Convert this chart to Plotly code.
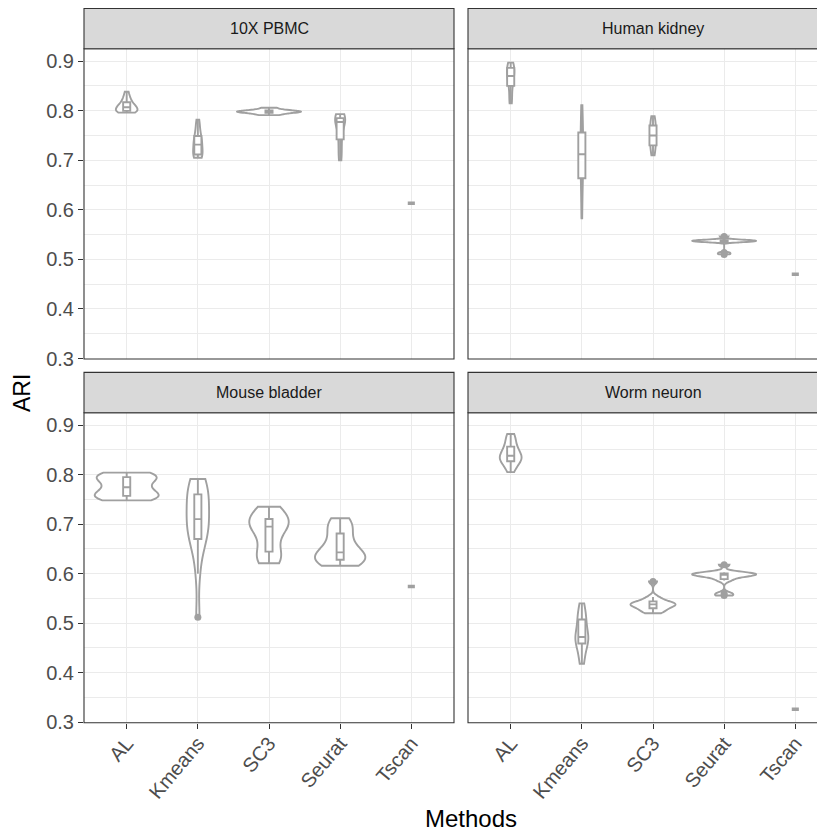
import numpy as np
import plotly.graph_objects as go

# ---------------- data (ARI values) ----------------
methods = ["AL", "Kmeans", "SC3", "Seurat", "Tscan"]
datasets = ["10X PBMC", "Human kidney", "Mouse bladder", "Worm neuron"]

pbmc_al = [0.796, 0.797, 0.798, 0.799, 0.800, 0.802, 0.804, 0.806, 0.808, 0.810, 0.812, 0.815, 0.819, 0.824, 0.829, 0.838]
pbmc_kmeans = [0.705, 0.706, 0.708, 0.710, 0.713, 0.718, 0.724, 0.730, 0.733, 0.738, 0.742, 0.746, 0.752, 0.763, 0.772, 0.782]
pbmc_sc3 = [0.791, 0.793, 0.795, 0.796, 0.797, 0.798, 0.798, 0.799, 0.800, 0.801, 0.803, 0.806]
pbmc_seurat = [0.700, 0.712, 0.728, 0.742, 0.755, 0.768, 0.775, 0.779, 0.781, 0.783, 0.785, 0.788, 0.790, 0.793]
pbmc_tscan = [0.613]

kidney_al = [0.815, 0.822, 0.835, 0.848, 0.856, 0.862, 0.866, 0.870, 0.875, 0.880, 0.884, 0.887, 0.890, 0.893, 0.897]
kidney_kmeans = [0.583, 0.620, 0.650, 0.660, 0.675, 0.690, 0.705, 0.712, 0.720, 0.735, 0.750, 0.758, 0.770, 0.790, 0.811]
kidney_sc3 = [0.710, 0.716, 0.724, 0.730, 0.736, 0.742, 0.748, 0.752, 0.758, 0.764, 0.770, 0.776, 0.783, 0.789]
kidney_seurat = [0.510, 0.512, 0.514, 0.534, 0.535, 0.535, 0.536, 0.536, 0.537, 0.537, 0.537, 0.538, 0.538, 0.538, 0.539, 0.539, 0.540, 0.541, 0.546]
kidney_tscan = [0.470]

bladder_al = [0.748, 0.751, 0.754, 0.757, 0.760, 0.764, 0.772, 0.777, 0.786, 0.791, 0.795, 0.798, 0.801, 0.804]
bladder_kmeans = [0.512, 0.600, 0.650, 0.665, 0.675, 0.690, 0.700, 0.705, 0.715, 0.730, 0.745, 0.755, 0.765, 0.775, 0.785, 0.791]
bladder_sc3 = [0.621, 0.625, 0.632, 0.641, 0.655, 0.670, 0.688, 0.695, 0.698, 0.701, 0.705, 0.712, 0.720, 0.728, 0.735]
bladder_seurat = [0.616, 0.619, 0.623, 0.627, 0.631, 0.635, 0.639, 0.643, 0.650, 0.660, 0.672, 0.684, 0.695, 0.703, 0.712]
bladder_tscan = [0.574]

worm_al = [0.805, 0.815, 0.822, 0.826, 0.830, 0.833, 0.835, 0.838, 0.842, 0.847, 0.852, 0.858, 0.866, 0.875, 0.882]
worm_kmeans = [0.418, 0.430, 0.445, 0.458, 0.462, 0.467, 0.470, 0.472, 0.480, 0.490, 0.500, 0.510, 0.515, 0.528, 0.540]
worm_sc3 = [0.520, 0.524, 0.528, 0.531, 0.534, 0.536, 0.538, 0.539, 0.541, 0.543, 0.547, 0.553, 0.584]
worm_seurat = [0.556, 0.560, 0.586, 0.592, 0.595, 0.597, 0.598, 0.599, 0.600, 0.601, 0.603, 0.618]
worm_tscan = [0.326]

panel_values = {
    "10X PBMC": [pbmc_al, pbmc_kmeans, pbmc_sc3, pbmc_seurat, pbmc_tscan],
    "Human kidney": [kidney_al, kidney_kmeans, kidney_sc3, kidney_seurat, kidney_tscan],
    "Mouse bladder": [bladder_al, bladder_kmeans, bladder_sc3, bladder_seurat, bladder_tscan],
    "Worm neuron": [worm_al, worm_kmeans, worm_sc3, worm_seurat, worm_tscan],
}

y_ticks = [0.3, 0.4, 0.5, 0.6, 0.7, 0.8, 0.9]

# ---------------- helpers ----------------
def bw_nrd0(v):
    v = np.asarray(v, float)
    n = len(v)
    sd = np.std(v, ddof=1)
    q75, q25 = np.percentile(v, [75, 25])
    lo = min(sd, (q75 - q25) / 1.34)
    if lo <= 0:
        lo = sd if sd > 0 else 1.0
    return 0.9 * lo * n ** -0.2


def max_density(v, h):
    v = np.asarray(v, float)
    g = np.linspace(v.min(), v.max(), 512)
    z = (g[:, None] - v[None, :]) / h
    d = np.exp(-0.5 * z ** 2).sum(axis=1) / (len(v) * h * np.sqrt(2 * np.pi))
    return d.max()


# ---------------- layout geometry ----------------
# the page body has an 8px margin, so the figure is drawn 8px in from the window corner
OFF = 8
W, H = 825 - OFF, 832 - OFF
ML, MR, MT, MB = 84 - OFF, 0, 48 - OFF, 109
PW = W - ML - MR
PH = H - MT - MB
left_px = (84 - OFF, 454 - OFF)
right_px = (468 - OFF, 838 - OFF)
unit = (left_px[1] - left_px[0]) / 5.2
top_px = (48.7 - OFF, 359 - OFF)
bot_px = (412.7 - OFF, 722.7 - OFF)

def xdom(px):
    return [max(0, (px[0] - ML) / PW), min(1, (px[1] - ML) / PW)]

def ydom(px):
    return [(H - MB - px[1]) / PH, min(1, (H - MB - px[0]) / PH)]

panels = [
    ("10X PBMC", left_px, top_px, 1),
    ("Human kidney", right_px, top_px, 2),
    ("Mouse bladder", left_px, bot_px, 3),
    ("Worm neuron", right_px, bot_px, 4),
]

GREY = "#a0a0a0"
FONT = "Liberation Sans, Arial, sans-serif"
TICK = 20
fig = go.Figure()
layout = dict(
    width=W, height=H,
    margin=dict(l=ML, r=MR, t=MT, b=MB, autoexpand=False),
    plot_bgcolor="white", paper_bgcolor="white",
    showlegend=False,
    violinmode="overlay", boxmode="overlay",
    font=dict(family=FONT, size=16, color="#4d4d4d"),
)
shapes = []
annotations = []

for name, xpx, ypx, k in panels:
    sfx = "" if k == 1 else str(k)
    xa, ya = "x" + sfx, "y" + sfx
    vals = panel_values[name]
    dens = {}
    for m, v in zip(methods, vals):
        if len(set(v)) > 1:
            h = bw_nrd0(v)
            dens[m] = (h, max_density(v, h))
    pmax = max(d for _, d in dens.values())
    for m, v in zip(methods, vals):
        if m in dens:
            h, d = dens[m]
            fig.add_trace(go.Violin(
                x=[m] * len(v), y=v, xaxis=xa, yaxis=ya,
                bandwidth=h, spanmode="hard", scalemode="width",
                width=0.9 * d / pmax, points=False,
                fillcolor="white", line=dict(color=GREY, width=1.9),
                box=dict(visible=False), meanline=dict(visible=False),
                hoverinfo="skip",
            ))
    for m, v in zip(methods, vals):
        single = len(set(v)) == 1
        fig.add_trace(go.Box(
            x=[m] * len(v), y=v, xaxis=xa, yaxis=ya,
            width=0.1, fillcolor="white", whiskerwidth=0,
            line=dict(color=GREY, width=3.5 if single else 1.9),
            boxpoints="outliers",
            marker=dict(color=GREY, size=7, line=dict(width=0)),
            hoverinfo="skip",
        ))

    xr = [-0.6, -0.6 + (min(xpx[1], W) - xpx[0]) / unit]
    bottom = k >= 3
    leftp = k in (1, 3)
    layout["xaxis" + sfx] = dict(
        domain=xdom(xpx), anchor=ya, type="category",
        categoryorder="array", categoryarray=methods,
        range=xr, showgrid=True, gridcolor="#ebebeb", gridwidth=1.1,
        zeroline=False, showline=False, automargin=False,
        ticks="outside" if bottom else "", ticklen=5, tickwidth=1.1, tickcolor="#333333",
        showticklabels=bottom, tickangle=-50, ticklabelstandoff=-5,
        tickfont=dict(family=FONT, size=TICK, color="#4d4d4d"),
        fixedrange=True,
    )
    layout["yaxis" + sfx] = dict(
        domain=ydom(ypx), anchor=xa, range=[0.299, 0.925],
        tickvals=y_ticks, ticktext=[f"{t:.1f}" for t in y_ticks],
        showgrid=True, gridcolor="#ebebeb", gridwidth=1.1,
        minor=dict(dtick=0.05, tick0=0.3, showgrid=True, gridcolor="#ebebeb", gridwidth=0.6),
        zeroline=False, showline=False, automargin=False,
        ticks="outside" if leftp else "", ticklen=5, tickwidth=1.1, tickcolor="#333333",
        showticklabels=leftp,
        tickfont=dict(family=FONT, size=TICK, color="#4d4d4d"),
        fixedrange=True,
    )
    # panel border
    x1 = (xpx[1] - xpx[0]) / (min(xpx[1], W) - xpx[0])
    shapes.append(dict(type="rect", xref=xa + " domain", yref=ya + " domain",
                       x0=0, x1=x1, y0=0, y1=1, line=dict(color="#333333", width=1.1),
                       fillcolor="rgba(0,0,0,0)", layer="above"))
    # strip
    ph = ypx[1] - ypx[0]
    sh = 40.3
    shapes.append(dict(type="rect", xref=xa + " domain", yref=ya + " domain",
                       x0=0, x1=x1, y0=1, y1=1 + sh / ph, line=dict(color="#333333", width=1.1),
                       fillcolor="#d9d9d9", layer="above"))
    annotations.append(dict(text=name, xref=xa + " domain", yref=ya + " domain",
                            x=0.5 * x1, y=1 + sh / 2 / ph, showarrow=False,
                            xanchor="center", yanchor="middle",
                            font=dict(family=FONT, size=16, color="#1a1a1a")))

annotations.append(dict(text="ARI", xref="paper", yref="paper",
                        x=(22 - OFF - ML) / PW, y=(H - MB - (393 - OFF)) / PH, textangle=-90,
                        showarrow=False, xanchor="center", yanchor="middle",
                        font=dict(family=FONT, size=23, color="#000000")))
annotations.append(dict(text="Methods", xref="paper", yref="paper",
                        x=(471 - OFF - ML) / PW, y=(H - MB - (818 - OFF)) / PH,
                        showarrow=False, xanchor="center", yanchor="middle",
                        font=dict(family=FONT, size=24, color="#000000")))

layout["shapes"] = shapes
layout["annotations"] = annotations
fig.update_layout(**layout)
fig.write_html("out.html")
